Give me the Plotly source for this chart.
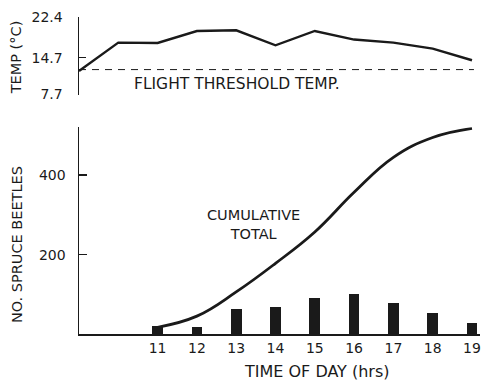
import plotly.graph_objects as go

# Data
temp_hours = [9, 10, 11, 12, 13, 14, 15, 16, 17, 18, 19]
temp_c = [12.17, 17.55, 17.47, 19.75, 19.88, 17.04, 19.75, 18.12, 17.55, 16.41, 14.2]
threshold_c = 12.43

hours = [11, 12, 13, 14, 15, 16, 17, 18, 19]
beetles = [20, 18, 63, 68, 91, 101, 78, 53, 27]
cumulative = [17, 45, 106, 178, 257, 357, 445, 495, 518]

temp_ticks = [7.7, 14.7, 22.4]
temp_ticktext = ["7.7", "14.7", "22.4"]
count_ticks = [200, 400]
hour_ticks = hours
hour_ticktext = [str(h) for h in hours]

FONT = "DejaVu Sans"
INK = "#1a1a1a"

W, H = 482, 380

# plot area in page pixels
AX_L, AX_R, AX_T, AX_B = 79, 480, 16.7, 334
L, T = AX_L, AX_T
R = W - AX_R
B = H - AX_B
pw, ph = W - L - R, H - T - B

def px_x(p):
    return (p - AX_L) / pw

def px_y(p):
    return (AX_B - p) / ph

fig = go.Figure()

# Top panel: temperature
fig.add_trace(go.Scatter(x=temp_hours, y=temp_c, mode="lines",
                         line=dict(color=INK, width=2.4),
                         xaxis="x", yaxis="y", showlegend=False, hoverinfo="skip"))
fig.add_trace(go.Scatter(x=[temp_hours[0], 19.05], y=[threshold_c, threshold_c], mode="lines",
                         line=dict(color=INK, width=1, dash="7px,6px"),
                         xaxis="x", yaxis="y", showlegend=False, hoverinfo="skip"))

# Bottom panel: bars and cumulative curve
fig.add_trace(go.Bar(x=hours, y=beetles, width=0.27, marker=dict(color=INK, line=dict(width=0)),
                     xaxis="x2", yaxis="y2", showlegend=False, hoverinfo="skip"))
fig.add_trace(go.Scatter(x=hours, y=cumulative, mode="lines",
                         line=dict(color=INK, width=2.8, shape="spline", smoothing=1.2),
                         xaxis="x2", yaxis="y2", showlegend=False, hoverinfo="skip"))

top_dom = [px_y(94.3), px_y(16.7)]
bot_dom = [0, px_y(127)]

xrange_ = [9, 9 + (AX_R - 79.5) / 39.25]

tickfont = dict(family=FONT, size=14, color=INK)

fig.update_layout(
    width=W, height=H,
    margin=dict(l=L, r=R, t=T, b=B, pad=0),
    paper_bgcolor="white", plot_bgcolor="white",
    bargap=0,
    xaxis=dict(domain=[0, 1], range=xrange_, visible=False, anchor="y"),
    yaxis=dict(domain=top_dom, range=[7.7, 22.4], anchor="x",
               showline=True, linecolor=INK, linewidth=1.5,
               ticks="inside", ticklen=7, tickwidth=1.5, tickcolor=INK,
               tickvals=temp_ticks, ticktext=temp_ticktext, tickfont=tickfont,
               ticklabelstandoff=12, showgrid=False, zeroline=False),
    xaxis2=dict(domain=[0, 1], range=xrange_, anchor="y2",
                showline=True, linecolor=INK, linewidth=1.5,
                ticks="", tickvals=hour_ticks, ticktext=hour_ticktext, tickfont=tickfont,
                ticklabelstandoff=1, showgrid=False, zeroline=False),
    yaxis2=dict(domain=bot_dom, range=[0, 521], anchor="x2",
                showline=True, linecolor=INK, linewidth=1.5,
                ticks="inside", ticklen=8, tickwidth=1.5, tickcolor=INK,
                tickvals=count_ticks, tickfont=tickfont,
                ticklabelstandoff=9, showgrid=False, zeroline=False),
    annotations=[
        dict(text="TEMP (°C)", xref="paper", yref="paper", x=px_x(16), y=px_y(57),
             textangle=-90, showarrow=False, xanchor="center", yanchor="middle",
             font=dict(family=FONT, size=14.5, color=INK)),
        dict(text="NO. SPRUCE BEETLES", xref="paper", yref="paper", x=px_x(17), y=px_y(245),
             textangle=-90, showarrow=False, xanchor="center", yanchor="middle",
             font=dict(family=FONT, size=14.5, color=INK)),
        dict(text="TIME OF DAY (hrs)", xref="paper", yref="paper", x=px_x(317), y=px_y(372),
             showarrow=False, xanchor="center", yanchor="middle",
             font=dict(family=FONT, size=16, color=INK)),
        dict(text="FLIGHT THRESHOLD TEMP.", xref="paper", yref="paper", x=px_x(237), y=px_y(84),
             showarrow=False, xanchor="center", yanchor="middle",
             font=dict(family=FONT, size=15.5, color=INK)),
        dict(text="CUMULATIVE<br>TOTAL", xref="paper", yref="paper", x=px_x(253), y=px_y(224),
             showarrow=False, xanchor="center", yanchor="middle",
             font=dict(family=FONT, size=14.5, color=INK)),
    ],
)

fig.write_html(
    "out.html",
    config={"displayModeBar": False, "staticPlot": True},
    post_script="document.body.style.margin='0';document.body.style.overflow='hidden';",
)
